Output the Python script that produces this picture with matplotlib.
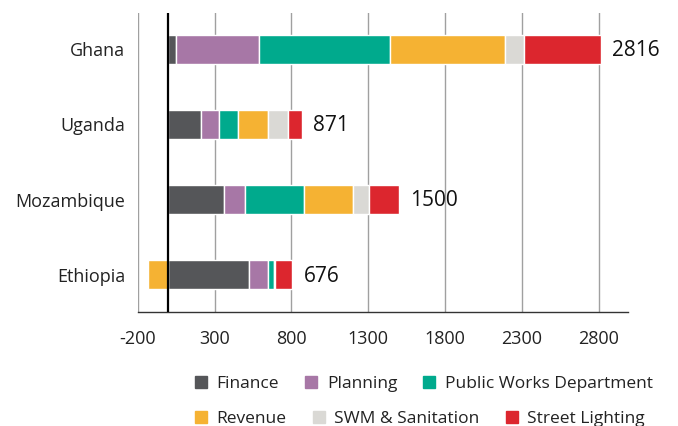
import matplotlib
matplotlib.use("Agg")
import matplotlib.pyplot as plt
from matplotlib.lines import Line2D
import numpy as np

plt.rcParams['font.family'] = ['Open Sans', 'DejaVu Sans']

countries = ["Ethiopia", "Mozambique", "Uganda", "Ghana"]
series_names = ["Finance", "Planning", "Public Works Department",
                "Revenue", "SWM & Sanitation", "Street Lighting"]
finance = [525, 360, 210, 50]
planning = [120, 137, 122, 540]
public_works = [40, 387, 120, 850]
revenue = [-130, 317, 197, 750]
swm = [10, 105, 127, 125]
street_lighting = [111, 194, 95, 501]
totals = [676, 1500, 871, 2816]
xticks = [-200, 300, 800, 1300, 1800, 2300, 2800]

colors = ["#555659", "#A777A6", "#00AA8D", "#F5B233", "#DAD9D5", "#DC262E"]
all_series = [finance, planning, public_works, revenue, swm, street_lighting]

fig = plt.figure(figsize=(6.78, 4.26), dpi=100)
ax = fig.add_axes([0.2031, 0.2669, 0.7232, 0.7019])

y = np.arange(len(countries))
pos_left = np.zeros(len(countries))
neg_left = np.zeros(len(countries))
for vals, col, name in zip(all_series, colors, series_names):
    v = np.array(vals, dtype=float)
    left = np.where(v >= 0, pos_left, neg_left)
    ax.barh(y, v, left=left, height=0.38, color=col, edgecolor='white',
            linewidth=1.0, label=name, zorder=3)
    pos_left = pos_left + np.where(v > 0, v, 0)
    neg_left = neg_left + np.where(v < 0, v, 0)

for yi, xe, t in zip(y, pos_left, totals):
    ax.annotate(str(t), (xe, yi), xytext=(8, -1), textcoords='offset points',
                ha='left', va='center', fontsize=15, color='#111111')

ax.axvline(0, color='black', linewidth=1.6, zorder=5)
ax.set_xlim(-200, 2990)
ax.set_ylim(-0.5, 3.48)
ax.set_xticks(xticks)
ax.set_xticklabels([str(t) for t in xticks], fontsize=13, color='#222222')
ax.set_yticks(y)
ax.set_yticklabels(countries, fontsize=13, color='#222222')
ax.tick_params(axis='both', length=0)
ax.tick_params(axis='x', pad=13)
ax.tick_params(axis='y', pad=9)
ax.grid(axis='x', color='#A0A0A0', linewidth=1.0, zorder=0)
ax.set_axisbelow(True)
for s in ['top', 'right', 'left']:
    ax.spines[s].set_visible(False)
ax.spines['bottom'].set_color('#333333')
ax.spines['bottom'].set_linewidth(1.0)

def handles(idx):
    return [Line2D([0], [0], marker='s', color='none', markerfacecolor=colors[i],
                   markeredgecolor=colors[i], markersize=8) for i in idx]

kw = dict(frameon=False, fontsize=12.5, handlelength=0.7, handletextpad=0.55,
          columnspacing=1.5, borderpad=0, borderaxespad=0, ncol=3,
          loc='center left', labelcolor='#222222')
leg1 = fig.legend(handles([0, 1, 2]), series_names[0:3],
                  bbox_to_anchor=(195 / 678, 1 - 384 / 426), **kw)
leg2 = fig.legend(handles([3, 4, 5]), series_names[3:6],
                  bbox_to_anchor=(195 / 678, 1 - 419 / 426), **kw)

fig.savefig("out.png", dpi=100)
